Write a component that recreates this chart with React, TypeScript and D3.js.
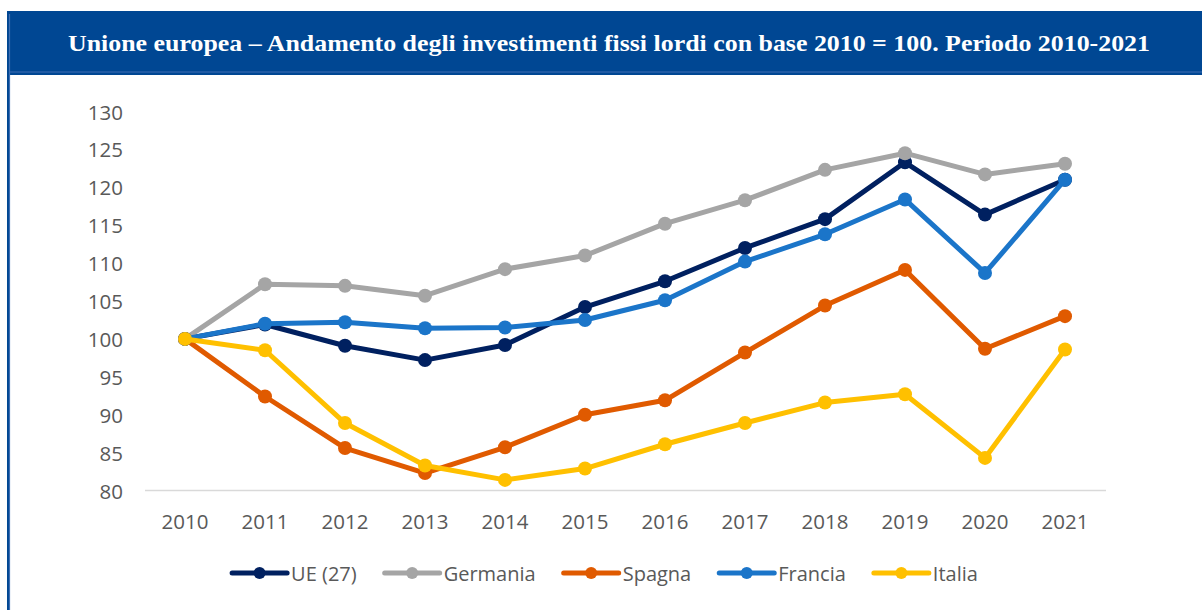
import React, { useEffect, useRef } from "react";
import * as d3 from "d3";

const years = ["2010","2011","2012","2013","2014","2015","2016","2017","2018","2019","2020","2021"];
const ue27 = [100, 101.9, 99.1, 97.2, 99.2, 104.2, 107.6, 112.0, 115.8, 123.3, 116.4, 121.0];
const germania = [100, 107.2, 107.0, 105.7, 109.2, 111.0, 115.2, 118.3, 122.3, 124.5, 121.7, 123.1];
const spagna = [100, 92.4, 85.6, 82.3, 85.7, 90.0, 91.9, 98.2, 104.4, 109.1, 98.7, 103.0];
const francia = [100, 102.0, 102.2, 101.4, 101.5, 102.5, 105.1, 110.2, 113.8, 118.4, 108.7, 121.0];
const italia = [100, 98.5, 88.9, 83.3, 81.4, 82.9, 86.1, 88.9, 91.6, 92.7, 84.3, 98.6];
const yTicks = [80, 85, 90, 95, 100, 105, 110, 115, 120, 125, 130];
const title = "Unione europea \u2013 Andamento degli investimenti fissi lordi con base 2010 = 100. Periodo 2010-2021";

const series = [
  { name: "UE (27)", values: ue27, color: "#002060" },
  { name: "Germania", values: germania, color: "#A5A5A5" },
  { name: "Spagna", values: spagna, color: "#E05A00" },
  { name: "Francia", values: francia, color: "#1B75C9" },
  { name: "Italia", values: italia, color: "#FFC000" },
];

const W = 1202, H = 610;

export default function App() {
  const ref = useRef<SVGSVGElement>(null);
  useEffect(() => {
    const svg = d3.select(ref.current);
    svg.selectAll("*").remove();
    svg.append("rect").attr("x", 0).attr("y", 0).attr("width", W).attr("height", H).attr("fill", "#fff");

    // frame
    svg.append("rect").attr("x", 7).attr("y", 11).attr("width", W - 7).attr("height", 64).attr("fill", "#004793");
    svg.append("rect").attr("x", 7).attr("y", 11).attr("width", 3).attr("height", H - 11).attr("fill", "#004793");
    svg.append("line").attr("x1", 9.5).attr("x2", W).attr("y1", 72).attr("y2", 72).attr("stroke", "#3E6FB3").attr("stroke-width", 1.2);
    svg.append("line").attr("x1", 9.5).attr("x2", 9.5).attr("y1", 14).attr("y2", H).attr("stroke", "#3E6FB3").attr("stroke-width", 1.2);

    svg.append("text").attr("x", 609).attr("y", 51).attr("text-anchor", "middle")
      .attr("font-family", "'Liberation Serif', serif").attr("font-weight", "bold").attr("font-size", 24)
      .attr("fill", "#fff").attr("textLength", 1082).attr("lengthAdjust", "spacingAndGlyphs").text(title);

    const x = d3.scalePoint<string>().domain(years).range([145, 1105]).padding(0.5);
    const y = d3.scaleLinear().domain([80, 130]).range([490.5, 111.5]);

    const font = "'Open Sans', sans-serif";
    const tc = "#595959";

    svg.append("line").attr("x1", 145).attr("x2", 1106).attr("y1", y(80)).attr("y2", y(80))
      .attr("stroke", "#D9D9D9").attr("stroke-width", 1.5);

    svg.append("g").selectAll("text").data(yTicks).join("text")
      .attr("x", 123).attr("y", d => y(d)).attr("text-anchor", "end").attr("dominant-baseline", "central")
      .attr("font-family", font).attr("font-size", 20.5).attr("fill", tc).text(d => String(d));

    svg.append("g").selectAll("text").data(years).join("text")
      .attr("x", d => x(d)!).attr("y", 521).attr("text-anchor", "middle").attr("dominant-baseline", "central")
      .attr("font-family", font).attr("font-size", 20.5).attr("fill", tc).text(d => d);

    const line = d3.line<number>().x((_, i) => x(years[i])!).y(d => y(d));
    series.forEach(s => {
      const g = svg.append("g");
      g.append("path").attr("d", line(s.values)!).attr("fill", "none").attr("stroke", s.color)
        .attr("stroke-width", 5).attr("stroke-linejoin", "round").attr("stroke-linecap", "round");
      g.selectAll("circle").data(s.values).join("circle")
        .attr("cx", (_, i) => x(years[i])!).attr("cy", d => y(d)).attr("r", 7).attr("fill", s.color);
    });

    // legend
    const lg = svg.append("g");
    const lineLen = 55, gap = 4, itemGap = 28, ly = 573;
    const items = series.map(s => {
      const t = lg.append("text").attr("font-family", font).attr("font-size", 20).attr("fill", tc)
        .attr("dominant-baseline", "central").attr("y", ly).text(s.name);
      const w = (t.node() as SVGTextElement).getComputedTextLength();
      return { s, t, w };
    });
    const total = items.reduce((a, it) => a + lineLen + gap + it.w, 0) + itemGap * (items.length - 1);
    let cx = 605 - total / 2;
    items.forEach(it => {
      lg.append("line").attr("x1", cx).attr("x2", cx + lineLen).attr("y1", ly).attr("y2", ly)
        .attr("stroke", it.s.color).attr("stroke-width", 5).attr("stroke-linecap", "round");
      lg.append("circle").attr("cx", cx + lineLen / 2).attr("cy", ly).attr("r", 6).attr("fill", it.s.color);
      it.t.attr("x", cx + lineLen + gap).raise();
      cx += lineLen + gap + it.w + itemGap;
    });
  }, []);
  return (
    <div style={{ position: "absolute", left: 0, top: 0 }}>
      <svg ref={ref} width={W} height={H} style={{ display: "block" }} />
    </div>
  );
}
